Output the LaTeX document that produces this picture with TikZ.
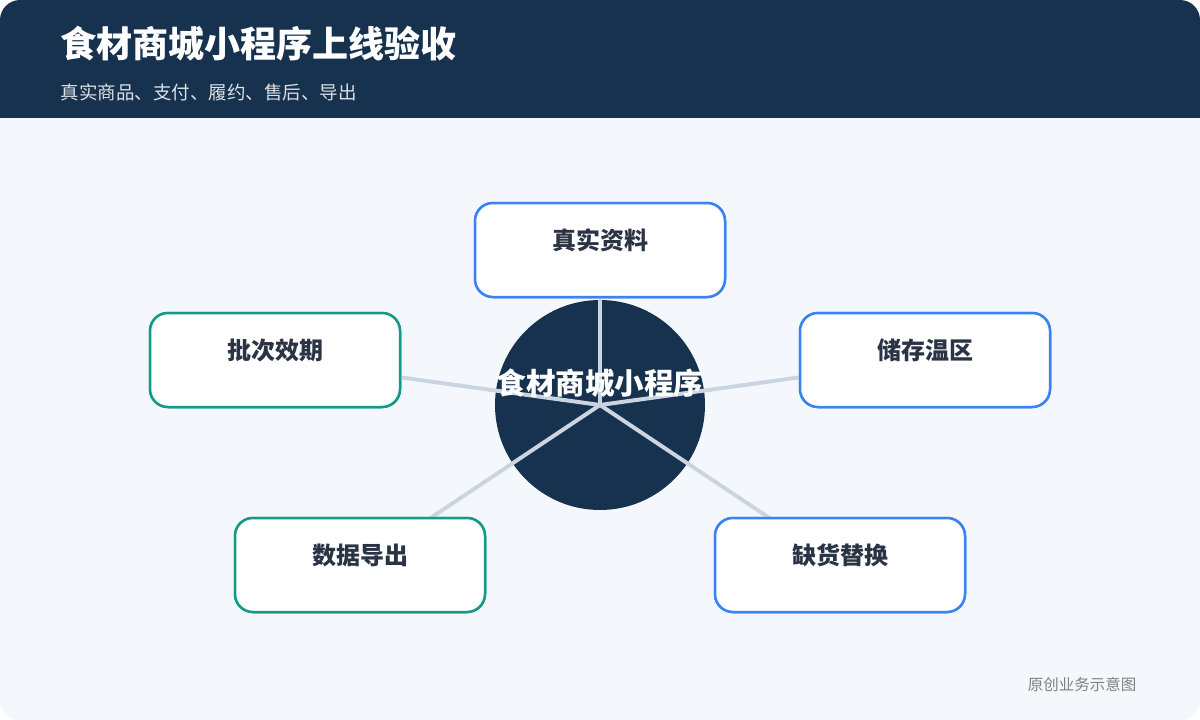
\documentclass[tikz,border=0pt]{standalone}
\usepackage{fontspec}
\setmainfont{Noto Sans CJK SC}
\definecolor{navy}{HTML}{17324F}
\definecolor{pagebg}{HTML}{F4F8FC}
\definecolor{linkgray}{HTML}{CBD5E1}
\definecolor{tealline}{HTML}{149A87}
\definecolor{blueline}{HTML}{3B82F6}
\definecolor{labeltext}{HTML}{2B3445}
\begin{document}
\begin{tikzpicture}[x=1pt,y=-1pt]
  \tikzstyle{card}=[draw,line width=2.5pt,rounded corners=18pt,fill=white,
    minimum width=250pt,minimum height=94pt,inner sep=0pt]
  \tikzstyle{teal card}=[card,draw=tealline]
  \tikzstyle{blue card}=[card,draw=blueline]
  \tikzstyle{cardtext}=[font=\bfseries\fontsize{24}{28}\selectfont,text=labeltext]
  \tikzstyle{link}=[draw=linkgray,line width=4pt]

  % page and header
  \useasboundingbox (0,0) rectangle (1200,720);
  \fill[pagebg,rounded corners=20pt] (0,0) rectangle (1200,720);
  \fill[navy,rounded corners=20pt] (0,0) rectangle (1200,60);
  \fill[navy] (0,40) rectangle (1200,118);
  \node[anchor=west,text=white,font=\bfseries\fontsize{36}{42}\selectfont] (title) at (57,44) {食材商城小程序上线验收};
  \node[anchor=west,text=white!85!navy,font=\fontsize{18.5}{22}\selectfont] (subtitle) at (57,92) {真实商品、支付、履约、售后、导出};

  % hub
  \node[circle,fill=navy,minimum size=210pt,inner sep=0pt] (hub) at (600,405) {};

  % cards
  \node[blue card] (real) at (600,250) {};
  \node[teal card] (batch) at (275,360) {};
  \node[blue card] (store) at (925,360) {};
  \node[teal card] (export) at (360,565) {};
  \node[blue card] (swap) at (840,565) {};

  % links from the hub
  \foreach \dest in {real,batch,store,export,swap}
      \path[link] (hub.center) -- (\dest.center);

  % cards again on top of the links
  \node[blue card] at (600,250) {};
  \node[teal card] at (275,360) {};
  \node[blue card] at (925,360) {};
  \node[teal card] at (360,565) {};
  \node[blue card] at (840,565) {};

  % labels
  \node[cardtext] at (600,240) {真实资料};
  \node[cardtext] at (275,350) {批次效期};
  \node[cardtext] at (925,350) {储存温区};
  \node[cardtext] at (360,555) {数据导出};
  \node[cardtext] at (840,555) {缺货替换};
  \node[text=white,font=\bfseries\fontsize{29.5}{34}\selectfont] at (600,383) {食材商城小程序};
  \node[anchor=east,text=gray,font=\fontsize{15.5}{18}\selectfont] (note) at (1140,685) {原创业务示意图};
\end{tikzpicture}
\end{document}
